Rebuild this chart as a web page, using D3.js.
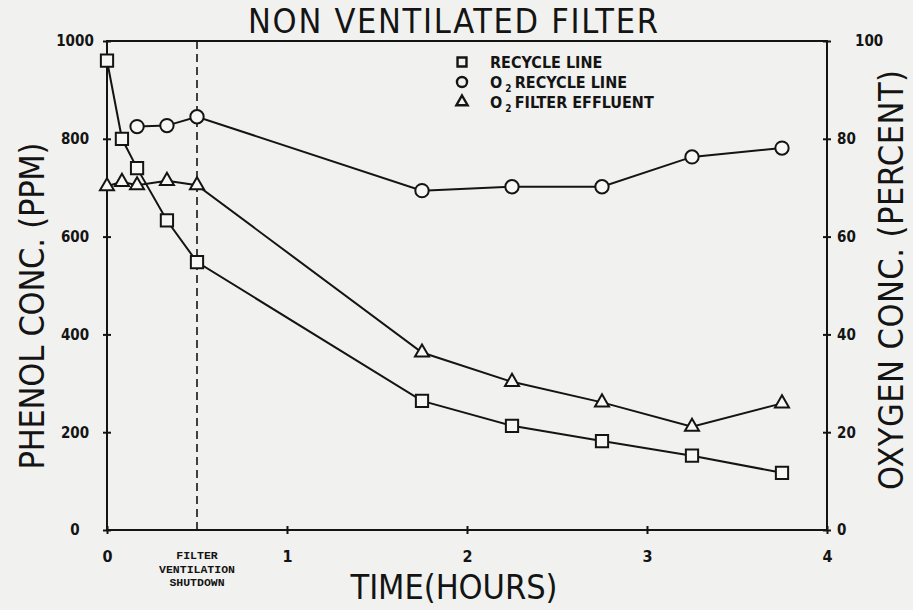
<!DOCTYPE html>
<html>
<head>
<meta charset="utf-8">
<script src="https://cdn.jsdelivr.net/npm/d3@7"></script>
<style>
	body { margin: 0; background: #f1f1ef; }
	svg { display: block; }
	.cond { font-family: "DejaVu Sans Condensed", "DejaVu Sans", sans-serif; font-stretch: condensed; }
</style>
</head>
<body>
<div id="chart"></div>
<script>
// values
var recycleTime = [0, 0.083, 0.167, 0.333, 0.5, 1.75, 2.25, 2.75, 3.25, 3.75];
var phenolRecycle = [960, 800, 740, 633, 548, 264, 213, 182, 152, 117];

var o2RecycleTime = [0.167, 0.333, 0.5, 1.75, 2.25, 2.75, 3.25, 3.75];
var o2Recycle = [82.5, 82.7, 84.5, 69.4, 70.2, 70.2, 76.3, 78.1];

var o2FilterTime = [0, 0.083, 0.167, 0.333, 0.5, 1.75, 2.25, 2.75, 3.25, 3.75];
var o2Filter = [70.3, 71.2, 70.5, 71.4, 70.5, 36.3, 30.3, 26.1, 21.1, 25.9];

var timeTicks = [0, 1, 2, 3, 4];
var phenolTicks = [0, 200, 400, 600, 800, 1000];
var oxygenTicks = [0, 20, 40, 60, 80, 100];
var shutdownTime = 0.5;
var shutdownLabel = ["FILTER", "VENTILATION", "SHUTDOWN"];

var width = 913, height = 610;
var ink = "#141414";

var svg = d3.select("#chart").append("svg")
	.attr("width", width)
	.attr("height", height);

var x = d3.scaleLinear().domain([0, 4]).range([107, 827]);
var yL = d3.scaleLinear().domain([0, 1000]).range([530, 41]);
var yR = d3.scaleLinear().domain([0, 100]).range([530, 41]);

// frame
svg.append("rect")
	.attr("x", x(0)).attr("y", yL(1000))
	.attr("width", x(4) - x(0)).attr("height", yL(0) - yL(1000))
	.attr("fill", "none").attr("stroke", ink).attr("stroke-width", 2);

// axes
var axL = svg.append("g")
	.attr("transform", "translate(" + x(0) + ",0)")
	.call(d3.axisLeft(yL).tickValues(phenolTicks).tickSize(4).tickFormat(d3.format("d")));

var axR = svg.append("g")
	.attr("transform", "translate(" + x(4) + ",0)")
	.call(d3.axisRight(yR).tickValues(oxygenTicks).tickSize(4).tickPadding(6));

var axB = svg.append("g")
	.attr("transform", "translate(0," + yL(0) + ")")
	.call(d3.axisBottom(x).tickValues(timeTicks).tickSize(4).tickPadding(17).tickFormat(d3.format("d")));

[axL, axR, axB].forEach(function(a)
{
	a.select(".domain").remove();
	a.selectAll("text")
		.attr("class", "cond")
		.attr("fill", ink)
		.style("font-size", "15px")
		.style("font-weight", "bold");
	a.selectAll("line").attr("stroke", ink).attr("stroke-width", 2);
});
axL.selectAll("line").attr("x1", 4);
axL.selectAll("text").attr("x", -32).attr("text-anchor", "middle");
axR.selectAll("line").attr("x1", -4);
axB.selectAll("line").attr("y1", -4);
axB.selectAll("text").style("font-size", "16px");
// top label on the right axis sits a bit further out
axR.selectAll(".tick").filter(function(d) { return d === 100; }).select("text").attr("x", 28);

// shutdown marker
svg.append("line")
	.attr("x1", x(shutdownTime)).attr("x2", x(shutdownTime))
	.attr("y1", yL(1000)).attr("y2", yL(0) + 4)
	.attr("stroke", ink).attr("stroke-width", 1.6)
	.attr("stroke-dasharray", "8,5");

svg.append("g").selectAll("text")
	.data(shutdownLabel)
	.enter().append("text")
	.attr("x", x(shutdownTime))
	.attr("y", function(d, i) { return 559 + i * 13.5; })
	.attr("text-anchor", "middle")
	.attr("fill", ink)
	.style("font-family", "'Liberation Mono', 'DejaVu Sans Mono', monospace")
	.style("font-size", "11.5px")
	.style("font-weight", "bold")
	.text(function(d) { return d; });

// series
var line = d3.line();

function series(times, vals, yScale, shape, size)
{
	var pts = times.map(function(t, i) { return [x(t), yScale(vals[i])]; });
	svg.append("path")
		.attr("d", line(pts))
		.attr("fill", "none")
		.attr("stroke", ink)
		.attr("stroke-width", 2);
	svg.append("g").selectAll("path")
		.data(pts)
		.enter().append("path")
		.attr("transform", function(d) { return "translate(" + d[0] + "," + d[1] + ")"; })
		.attr("d", d3.symbol().type(shape).size(size))
		.attr("fill", "#f7f7f5")
		.attr("stroke", ink)
		.attr("stroke-width", 2);
}

series(recycleTime, phenolRecycle, yL, d3.symbolSquare, 150);
series(o2RecycleTime, o2Recycle, yR, d3.symbolCircle, 140);
series(o2FilterTime, o2Filter, yR, d3.symbolTriangle, 85);

// legend
var legend = svg.append("g").attr("transform", "translate(462,62)");
var legendRows = [
	{shape: d3.symbolSquare, size: 80, label: ["", "RECYCLE LINE"]},
	{shape: d3.symbolCircle, size: 80, label: ["O", "RECYCLE LINE"]},
	{shape: d3.symbolTriangle, size: 55, label: ["O", "FILTER EFFLUENT"]}
];

legendRows.forEach(function(r, i)
{
	var g = legend.append("g").attr("transform", "translate(0," + i * 20 + ")");
	g.append("path")
		.attr("d", d3.symbol().type(r.shape).size(r.size))
		.attr("fill", "none")
		.attr("stroke", ink)
		.attr("stroke-width", 2.4);
	var t = g.append("text")
		.attr("class", "cond")
		.attr("x", 28)
		.attr("y", 6)
		.attr("fill", ink)
		.style("font-size", "16px")
		.style("font-weight", "bold");
	if (r.label[0])
	{
		t.append("tspan").text("O");
		t.append("tspan").attr("dy", 4).style("font-size", "10px").text(" 2 ");
		t.append("tspan").attr("dy", -4).text(r.label[1]);
	}
	else
		t.text(r.label[1]);
});

// titles
function bigText(txt, tx, ty, rot, len, size)
{
	svg.append("text")
		.attr("class", "cond")
		.attr("transform", "translate(" + tx + "," + ty + ")rotate(" + rot + ")")
		.attr("text-anchor", "middle")
		.attr("fill", ink)
		.attr("textLength", len)
		.attr("lengthAdjust", "spacing")
		.style("font-size", size + "px")
		.style("font-weight", 300)
		.text(txt);
}

bigText("NON VENTILATED FILTER", 453, 33, 0, 410, 34);
bigText("TIME(HOURS)", 454, 599, 0, 207, 34);
bigText("PHENOL CONC. (PPM)", 44, 306, -90, 327, 34);
bigText("OXYGEN CONC. (PERCENT)", 903, 280, -90, 420, 34);
</script>
</body>
</html>
